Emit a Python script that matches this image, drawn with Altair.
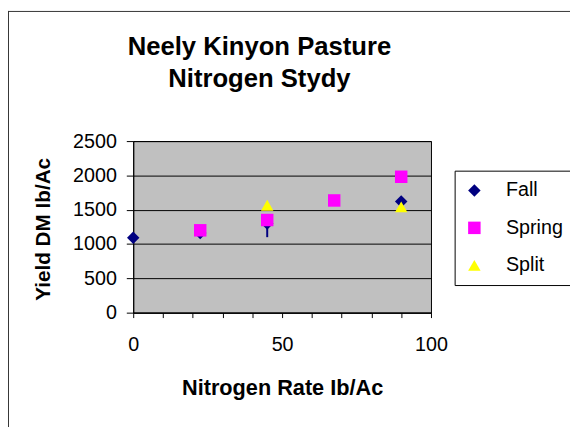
import altair as alt
import pandas as pd

# ---- data ----
fall_rate = [0, 22.5, 45, 90]
fall_yield = [1090, 1160, 1300, 1620]
spring_rate = [22.5, 45, 67.5, 90]
spring_yield = [1200, 1350, 1635, 1980]
split_rate = [45, 90]
split_yield = [1565, 1542]
# vertical bar visible below the Spring square at 45
fall_bar_rate = [45]
fall_bar_low = [1100]
fall_bar_high = [1300]

series = ["Fall", "Spring", "Split"]
colors = ["#000080", "#FF00FF", "#FFFF00"]
shapes = ["diamond", "square", "triangle-up"]
x_ticks = list(range(0, 101, 10))
y_ticks = [0, 500, 1000, 1500, 2000, 2500]
title_lines = ["Neely Kinyon Pasture", "Nitrogen Stydy"]

rows = []
for name, xs, ys in [("Fall", fall_rate, fall_yield),
                     ("Spring", spring_rate, spring_yield),
                     ("Split", split_rate, split_yield)]:
    for xv, yv in zip(xs, ys):
        rows.append({"series": name, "rate": xv, "yield": yv})
df = pd.DataFrame(rows)
bars = pd.DataFrame({"rate": fall_bar_rate, "low": fall_bar_low, "high": fall_bar_high})
one = pd.DataFrame({"k": [0]})

FONT = "Liberation Sans"

x_scale = alt.Scale(domain=[0, 100], nice=False, zero=False)
y_scale = alt.Scale(domain=[0, 2500], nice=False)

x_axis = alt.Axis(values=x_ticks,
                  labelExpr="datum.value % 50 == 0 ? datum.label : ''",
                  grid=False, tickSize=5, tickColor="black", domainColor="black",
                  labelPadding=17, labelFontSize=20, labelColor="black", labelFont=FONT,
                  labelFlush=False, labelOverlap=False,
                  title="Nitrogen Rate Ib/Ac", titleFont=FONT, titleFontSize=22,
                  titleFontWeight="bold", titleColor="black",
                  titleY=83, titleBaseline="alphabetic")
y_axis = alt.Axis(values=y_ticks, format="d", grid=True, gridColor="black", gridOpacity=1,
                  tickSize=7, tickColor="black", domainColor="black",
                  labelPadding=10, labelFontSize=20, labelColor="black", labelFont=FONT,
                  title="Yield DM Ib/Ac", titleFont=FONT, titleFontSize=21,
                  titleFontWeight="bold", titleColor="black",
                  titleX=-85, titleY=89, titleBaseline="alphabetic", titleAngle=270)

rule = alt.Chart(bars).mark_rule(color="#000080", strokeWidth=2).encode(
    x=alt.X("rate:Q", scale=x_scale, axis=x_axis),
    y=alt.Y("low:Q", scale=y_scale, axis=y_axis),
    y2="high:Q",
)

legend = alt.Legend(title=None, orient="none", legendX=326, legendY=30,
                    strokeColor="black", fillColor="white", padding=10,
                    labelFont=FONT, labelFontSize=20, labelColor="black",
                    symbolSize=160, rowPadding=18, labelOffset=22)

points = alt.Chart(df).mark_point(filled=True, size=160, opacity=1).encode(
    x=alt.X("rate:Q", scale=x_scale, axis=x_axis),
    y=alt.Y("yield:Q", scale=y_scale, axis=y_axis),
    color=alt.Color("series:N", scale=alt.Scale(domain=series, range=colors), legend=legend),
    shape=alt.Shape("series:N", scale=alt.Scale(domain=series, range=shapes), legend=legend),
)

title = alt.Chart(one).mark_text(font=FONT, fontSize=26, fontWeight="bold", align="center",
                                 baseline="alphabetic", lineHeight=32, color="black").encode(
    x=alt.value(128), y=alt.value(-87), text=alt.value(title_lines))

frame_left = alt.Chart(one).mark_rule(color="#333333", strokeWidth=1).encode(
    x=alt.value(-126.5), y=alt.value(-132), y2=alt.value(290))
frame_top = alt.Chart(one).mark_rule(color="#333333", strokeWidth=1).encode(
    x=alt.value(-127), x2=alt.value(445), y=alt.value(-131.5))

chart = alt.layer(frame_left, frame_top, title, rule, points).properties(
    width=302, height=174,
    autosize=alt.AutoSizeParams(type="none"),
    padding={"left": 127, "top": 132, "right": 141, "bottom": 114},
    background="white",
).configure_view(fill="#C0C0C0", stroke="black", strokeWidth=1)

chart.save("out.html", embed_options={"renderer": "svg", "actions": False})
